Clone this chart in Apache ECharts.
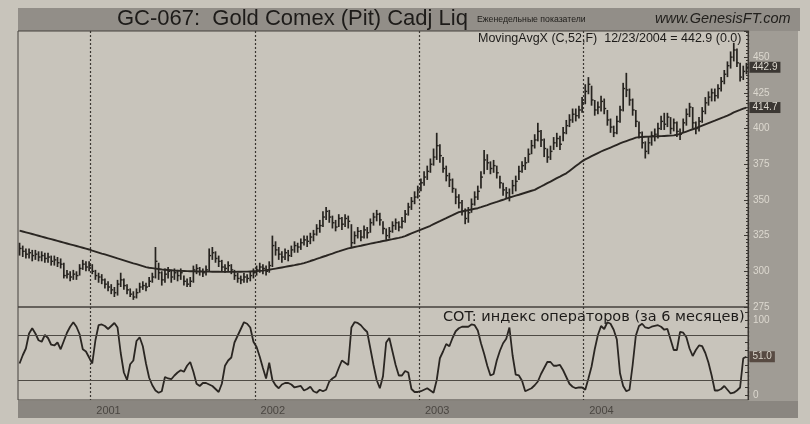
<!DOCTYPE html>
<html><head><meta charset="utf-8">
<script src="https://cdn.jsdelivr.net/npm/echarts@6/dist/echarts.min.js"></script>
<style>html,body{margin:0;padding:0;background:#c8c4bb;}#c{width:810px;height:424px;}</style>
</head><body><div id="c"></div>
<script>
const firstWeek = '2000-07-28';
const high = [
320,318,316,316,315,315,314,314,313,313,
311,311,310,309,306,301,300,301,300,305,
308,307,307,305,301,299,298,295,293,291,
289,294,299,295,291,288,286,288,292,293,
292,296,299,317,306,300,302,303,301,302,
301,302,297,295,296,304,305,303,302,304,
316,317,314,311,308,305,307,305,301,299,
297,299,298,300,302,304,306,305,304,307,
325,321,317,314,316,315,318,321,320,323,
325,325,327,329,333,336,342,345,343,339,
336,340,338,340,339,333,328,331,329,332,
331,337,341,343,341,335,330,331,335,337,
335,338,343,348,352,356,360,365,370,374,
379,386,397,389,380,374,369,365,358,354,
350,344,345,351,356,360,370,385,382,377,
378,374,367,362,359,358,364,367,374,377,
380,386,392,396,404,399,393,386,388,394,
397,395,401,406,410,414,414,416,422,431,
436,430,420,419,423,421,413,407,402,409,
416,432,439,428,421,413,405,398,391,394,
398,400,404,409,411,411,408,407,405,400,
407,414,418,415,405,408,415,422,426,428,
428,431,436,441,447,454,460,456,446,444,
446];
const low = [
311,310,309,309,307,308,307,307,306,306,
304,304,303,302,295,295,293,294,294,297,
301,300,300,298,294,292,291,288,286,284,
282,283,289,287,284,282,280,281,285,287,
286,289,292,295,294,290,292,295,292,294,
293,294,290,289,289,292,298,297,296,297,
300,308,306,303,300,299,300,298,294,292,
291,292,292,293,295,297,299,298,297,299,
303,311,308,306,308,307,310,313,313,315,
318,317,319,321,325,327,331,336,334,330,
328,331,329,331,330,317,319,323,321,323,
323,327,332,335,332,326,322,323,327,329,
328,330,334,339,343,347,351,356,360,364,
369,374,378,376,369,363,359,355,347,344,
339,333,334,341,346,350,358,368,371,368,
369,365,358,353,351,349,354,356,364,369,
371,376,382,386,391,387,380,376,378,385,
387,385,391,396,401,404,405,407,411,417,
424,416,409,410,412,410,402,397,394,396,
404,412,422,416,409,401,393,386,379,382,
388,391,393,399,399,401,396,398,394,392,
397,402,408,400,396,398,404,410,416,419,
419,421,426,431,436,442,447,443,433,434,
438];
const close = [
316,314,312,313,311,312,310,311,309,310,
307,308,306,305,297,298,296,298,297,302,
305,303,304,300,297,296,294,291,289,287,
285,291,294,290,287,284,282,285,289,290,
289,293,296,307,299,294,298,300,296,299,
297,299,293,291,293,301,302,300,299,301,
311,313,309,307,303,302,304,301,297,295,
294,296,295,297,299,301,303,302,300,304,
318,315,312,310,313,311,315,318,317,320,
322,321,324,326,330,332,338,342,338,334,
331,337,333,337,335,320,325,328,324,329,
327,334,338,340,336,330,325,328,332,334,
331,335,340,345,349,352,357,362,366,370,
375,380,388,381,372,367,364,358,352,348,
342,337,341,347,352,356,366,378,376,372,
374,369,362,357,355,352,360,363,370,374,
376,382,388,392,398,392,386,380,384,390,
393,389,397,402,406,410,409,413,418,426,
431,420,413,415,419,414,406,401,397,405,
413,428,427,420,413,405,397,390,384,390,
395,396,400,405,403,408,400,404,398,396,
404,410,415,404,400,405,412,418,422,425,
423,428,433,438,444,450,455,446,436,440,
442.9];
const ma52 = [
328.5,327.9,327.3,326.7,326.1,325.5,324.9,324.3,323.7,323.1,
322.5,321.9,321.3,320.7,320.1,319.5,318.9,318.3,317.7,317.1,
316.5,315.9,315.3,314.5,313.8,313.1,312.4,311.8,311.1,310.4,
309.7,309.0,308.4,307.7,307.0,306.3,305.6,305.0,304.3,303.6,
302.9,302.5,302.2,301.9,301.6,301.3,301.1,300.9,300.7,300.5,
300.4,300.3,300.2,300.1,300.0,300.0,299.9,299.9,299.8,299.8,
299.8,299.7,299.7,299.7,299.6,299.6,299.6,299.6,299.6,299.7,
299.7,299.8,299.8,299.9,300.0,300.1,300.3,300.5,300.8,301.1,
301.5,301.9,302.3,302.7,303.1,303.5,303.9,304.3,304.8,305.2,
305.7,306.4,307.2,307.9,308.7,309.4,310.2,310.9,311.7,312.4,
313.2,313.9,314.7,315.4,316.1,316.5,317.0,317.5,317.9,318.4,
318.9,319.4,319.8,320.3,320.7,321.2,321.6,322.1,322.5,323.0,
323.4,323.9,324.7,325.6,326.5,327.4,328.3,329.2,330.1,331.0,
331.9,333.0,334.1,335.1,336.2,337.2,338.3,339.3,340.4,341.4,
341.9,342.4,342.8,343.3,343.8,344.2,344.9,345.7,346.4,347.2,
347.9,348.6,349.4,350.1,350.9,351.6,352.3,353.0,353.6,354.3,
355.0,355.7,356.4,357.0,358.2,359.4,360.5,361.7,362.8,364.0,
365.2,366.3,367.5,368.6,370.3,372.0,373.7,375.3,377.0,378.4,
379.5,380.6,381.7,382.8,383.9,384.9,385.8,386.7,387.6,388.6,
389.6,390.4,391.2,392.0,392.8,393.6,394.0,394.1,394.2,394.3,
394.4,394.5,394.6,394.7,394.8,394.9,395.0,395.2,395.6,396.3,
397.1,397.9,398.7,399.5,400.2,401.1,402.0,402.9,403.8,404.7,
405.5,406.4,407.3,408.1,409.0,410.1,411.3,412.2,413.0,413.9,
414.7];
const cot = [
42,53,62,82,89,82,73,71,80,76,
67,66,70,61,72,83,91,97,91,81,
61,58,50,42,73,93,94,92,88,92,
96,90,56,30,20,41,46,72,77,65,
42,23,13,6,3,5,24,22,21,26,
30,33,31,39,44,31,15,12,16,16,
14,12,8,4,15,39,46,50,70,79,
88,97,95,90,71,64,51,36,22,43,
20,13,9,14,16,16,14,10,11,12,
6,8,11,5,3,7,5,7,18,22,
25,36,46,43,40,90,97,96,93,88,
84,62,40,20,9,25,70,76,58,40,
26,26,32,30,8,4,4,5,7,9,
6,3,20,49,58,68,65,76,85,89,
91,91,91,94,93,86,69,55,39,26,
28,46,59,69,75,90,53,27,26,19,
5,7,9,13,18,28,36,44,44,39,
39,40,33,24,15,11,9,10,10,7,
22,38,61,80,92,88,97,95,87,74,
29,12,5,7,40,79,92,95,90,89,
91,92,93,91,87,88,74,60,60,84,
83,77,62,52,60,66,65,56,43,26,
6,6,8,12,7,2,3,6,10,49,
51];
const priceTickStep = 25;
const cotLabels = [0, 100];
const cotBands = [20, 80];

// weekly category dates
const dates = [];
{ let t = Date.parse(firstWeek + 'T00:00:00Z');
  for (let i = 0; i < close.length; i++) { dates.push(new Date(t).toISOString().slice(0,10)); t += 7*864e5; } }
const isYearStart = (idx) => idx > 0 && dates[idx].slice(0,4) !== dates[idx-1].slice(0,4);

const ink = '#26231f';
const chart = echarts.init(document.getElementById('c'), null, {renderer:'canvas'});
const fmtEnd = p => { const v = Array.isArray(p.value) ? p.value[1] : p.value; return Number(v).toFixed(1); };

chart.setOption({
  animation: false,
  backgroundColor: '#c8c4bb',
  textStyle: { fontFamily: 'Liberation Sans, Arial, sans-serif' },
  graphic: [
    { type:'rect', z:-10, silent:true, shape:{x:18,y:8,width:782,height:23}, style:{fill:'#928e88'} },
    { type:'rect', z:-10, silent:true, shape:{x:749,y:31,width:49,height:387}, style:{fill:'#a09c95'} },
    { type:'rect', z:-10, silent:true, shape:{x:18,y:401,width:780,height:17}, style:{fill:'#8a8680'} }
  ],
  title: [
    { text:'GC-067:  Gold Comex (Pit) Cadj Liq', left:117, top:8, padding:0,
      textStyle:{fontSize:22, fontWeight:'normal', color:'#1d1b19', fontFamily:'Liberation Sans'} },
    { text:'Еженедельные показатели', left:477, top:15, padding:0,
      textStyle:{fontSize:8.7, fontWeight:'normal', color:'#22201d', fontFamily:'Liberation Sans'} },
    { text:'www.GenesisFT.com', left:655, top:11, padding:0,
      textStyle:{fontSize:14.5, fontStyle:'italic', fontWeight:'normal', color:'#22201d', fontFamily:'Liberation Sans'} },
    { text:'MovingAvgX (C,52,F)  12/23/2004 = 442.9 (0.0)', left:478, top:32, padding:0,
      textStyle:{fontSize:12.5, fontWeight:'normal', color:'#1d1b19', fontFamily:'Liberation Sans'} },
    { text:'COT: индекс операторов (за 6 месяцев)', left:443, top:310, padding:0,
      textStyle:{fontSize:14.5, fontWeight:'normal', color:'#1d1b19', fontFamily:'DejaVu Sans'} }
  ],
  grid: [
    { left:18, right:62, top:31, height:276, show:true, borderColor:'#45413c', borderWidth:1, backgroundColor:'transparent' },
    { left:18, right:62, top:307, height:93, show:true, borderColor:'#45413c', borderWidth:1, backgroundColor:'transparent' }
  ],
  xAxis: [
    { type:'category', gridIndex:0, data:dates, boundaryGap:true,
      axisLine:{show:false}, axisTick:{show:false}, axisLabel:{show:false},
      splitLine:{show:true, interval:(i)=>isYearStart(i), lineStyle:{type:[2,2], color:'#3a3631', width:1.2}} },
    { type:'category', gridIndex:1, data:dates, boundaryGap:true,
      axisLine:{show:false}, axisTick:{show:false},
      axisLabel:{show:true, interval:(i)=>isYearStart(i), formatter:(v)=>v.slice(0,4),
        align:'left', padding:[0,0,0,4], margin:5, fontSize:11, color:'#4a4641'},
      splitLine:{show:true, interval:(i)=>isYearStart(i), lineStyle:{type:[2,2], color:'#3a3631', width:1.2}} }
  ],
  yAxis: [
    { type:'value', gridIndex:0, position:'right', min:275, max:468.3, interval:priceTickStep,
      axisLine:{show:true, lineStyle:{color:'#3a3631'}},
      axisTick:{show:true, inside:true, length:4, lineStyle:{color:'#3a3631'}},
      minorTick:{show:true, splitNumber:10, length:2, lineStyle:{color:'#3a3631'}},
      splitLine:{show:false},
      axisLabel:{show:true, showMaxLabel:false, margin:5, fontSize:10, color:'#dcd8cf'} },
    { type:'value', gridIndex:1, position:'right', min:-6.67, max:117.33,
      axisLine:{show:true, lineStyle:{color:'#3a3631'}},
      axisTick:{show:true, inside:true, length:3, customValues:[0,10,20,30,40,50,60,70,80,90,100,110], lineStyle:{color:'#3a3631'}},
      splitLine:{show:false},
      axisLabel:{show:true, customValues:cotLabels, margin:5, fontSize:10, color:'#dcd8cf'} }
  ],
  series: [
    { type:'custom', name:'Gold', xAxisIndex:0, yAxisIndex:0,
      data: close.map((c,i)=>[i, high[i], low[i], c]),
      encode:{x:0, y:[1,2,3]},
      renderItem:(params, api) => {
        const hi = api.coord([api.value(0), api.value(1)]);
        const lo = api.coord([api.value(0), api.value(2)]);
        const cl = api.coord([api.value(0), api.value(3)]);
        return { type:'group', children:[
          { type:'line', shape:{x1:hi[0], y1:hi[1], x2:lo[0], y2:lo[1]}, style:{stroke:ink, lineWidth:1.7} },
          { type:'line', shape:{x1:cl[0], y1:cl[1], x2:cl[0]+2, y2:cl[1]}, style:{stroke:ink, lineWidth:1.4} }
        ]};
      } },
    { type:'line', name:'MA52', xAxisIndex:0, yAxisIndex:0, data:ma52, symbol:'none',
      lineStyle:{color:'#2a2622', width:1.9}, z:3,
      endLabel:{show:true, formatter:fmtEnd, distance:3, fontSize:10, color:'#dcd8cf', backgroundColor:'#3b3733', padding:[1,3,0,3]} },
    { type:'line', name:'Last', xAxisIndex:0, yAxisIndex:0, data:close, symbol:'none',
      lineStyle:{opacity:0, width:0}, silent:true,
      endLabel:{show:true, formatter:fmtEnd, distance:3, fontSize:10, color:'#dcd8cf', backgroundColor:'#3b3733', padding:[1,3,0,3]} },
    { type:'line', name:'COT', xAxisIndex:1, yAxisIndex:1, data:cot, symbol:'none',
      lineStyle:{color:'#2a2622', width:1.8},
      endLabel:{show:true, formatter:fmtEnd, distance:3, fontSize:10, color:'#d8d2c8', backgroundColor:'#574a42', padding:[1,3,0,3]},
      markLine:{silent:true, symbol:'none', label:{show:false},
        lineStyle:{color:'#4e4a44', width:1.2, type:'solid'},
        data: cotBands.map(v=>({yAxis:v}))} }
  ]
});
</script></body></html>
